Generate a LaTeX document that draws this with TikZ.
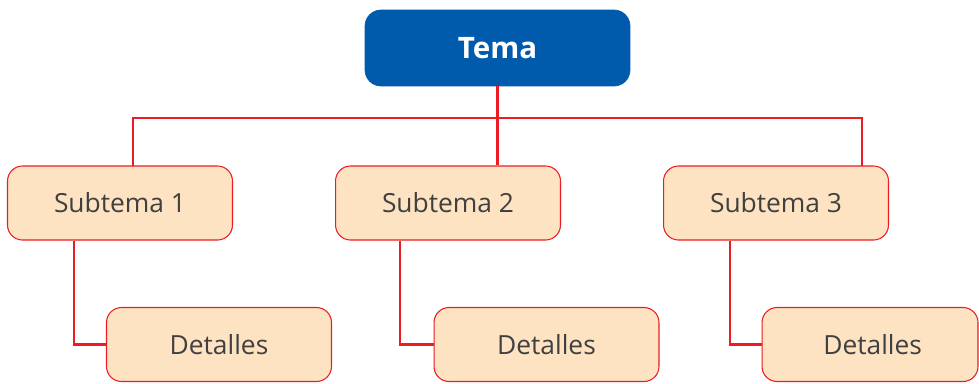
\documentclass[tikz,border=0pt]{standalone}
\usepackage{fontspec}
\setmainfont{Open Sans}
\definecolor{temablu}{HTML}{005BAC}
\definecolor{pesca}{HTML}{FDE3C2}
\definecolor{rosso}{HTML}{EC1C24}
\definecolor{grigio}{HTML}{404040}
\tikzset{
  tema/.style={draw=temablu, fill=temablu, rounded corners=0.32cm, text=white,
    font=\bfseries\fontsize{16.8}{20}\selectfont, minimum width=5.3cm, minimum height=1.52cm},
  sotto/.style={draw=rosso, fill=pesca, rounded corners=0.3cm, text=grigio, line width=0.6pt,
    font=\fontsize{15}{18}\selectfont, minimum width=4.5cm, minimum height=1.48cm},
  link/.style={rosso, line width=1.2pt}
}
\begin{document}
\begin{tikzpicture}[x=0.02cm, y=-0.02cm]
            \useasboundingbox (0,0) rectangle (979,383);

            % Disegna i nodi
            \node[tema] (tema) at (497.5,48) {Tema};
            \node[sotto] (s1) at (120,203) {\raisebox{-1pt}{Subtema 1}};
            \node[sotto] (s2) at (448,203) {\raisebox{-1pt}{Subtema 2}};
            \node[sotto] (s3) at (776,203) {\raisebox{-1pt}{Subtema 3}};
            \node[sotto] (d1) at (219,344.5) {Detalles};
            \node[sotto] (d2) at (546.5,344.5) {Detalles};
            \node[sotto, minimum width=4.32cm] (d3) at (870,344.5) {\hspace{3pt}Detalles};

            % Punti di attacco
            \coordinate (a1) at (133,166);
            \coordinate (a3) at (862,166);
            \coordinate (bus) at (497,118);

            % Collegamenti
            \draw[link] (tema.south) -- (tema.south |- s2.north);
            \draw[link] (a1) |- (bus) -| (a3);
            \draw[link] (s1.south west) ++(67,0) |- (d1.west);
            \draw[link] (s2.south west) ++(65,0) |- (d2.west);
            \draw[link] (s3.south west) ++(67,0) |- (d3.west);
\end{tikzpicture}
\end{document}
